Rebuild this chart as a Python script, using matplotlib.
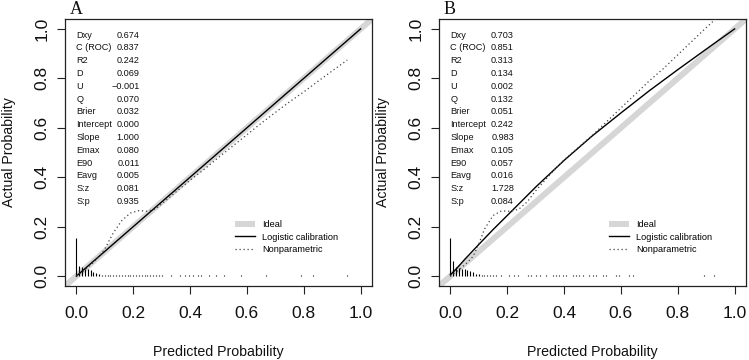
import matplotlib
matplotlib.use("Agg")
import matplotlib.pyplot as plt
from matplotlib.lines import Line2D

plt.rcParams['font.family'] = ['Liberation Sans', 'DejaVu Sans']

# ---------------- data ----------------
panel_labels = ["A", "B"]
stat_names = ["Dxy", "C (ROC)", "R2", "D", "U", "Q", "Brier", "Intercept",
              "Slope", "Emax", "E90", "Eavg", "S:z", "S:p"]
stats_a = ["0.674", "0.837", "0.242", "0.069", "\u22120.001", "0.070", "0.032",
           "0.000", "1.000", "0.080", "0.011", "0.005", "0.081", "0.935"]
stats_b = ["0.703", "0.851", "0.313", "0.134", "0.002", "0.132", "0.051",
           "0.242", "0.983", "0.105", "0.057", "0.016", "1.728", "0.084"]

ideal_x = [0.0, 1.0]
ideal_y = [0.0, 1.0]

logit_x_a = [0.0, 1.0]
logit_y_a = [0.0, 1.0]
logit_x_b = [0.0, 0.02, 0.05, 0.10, 0.15, 0.20, 0.30, 0.40, 0.50, 0.60, 0.70, 0.80, 0.90, 1.0]
logit_y_b = [0.005, 0.028, 0.067, 0.128, 0.188, 0.245, 0.36, 0.468, 0.568, 0.66, 0.75, 0.835, 0.918, 1.0]

np_x_a = [0.0, 0.03, 0.06, 0.08, 0.10, 0.13, 0.16, 0.19, 0.22, 0.25, 0.28, 0.30, 0.35,
          0.40, 0.45, 0.50, 0.55, 0.60, 0.65, 0.70, 0.75, 0.80, 0.85, 0.90, 0.953]
np_y_a = [0.0, 0.025, 0.055, 0.08, 0.11, 0.175, 0.225, 0.255, 0.265, 0.262, 0.272, 0.292, 0.34,
          0.388, 0.432, 0.48, 0.526, 0.572, 0.618, 0.662, 0.705, 0.745, 0.788, 0.83, 0.874]
np_x_b = [0.0, 0.03, 0.06, 0.08, 0.10, 0.12, 0.15, 0.18, 0.21, 0.24, 0.27, 0.30, 0.35,
          0.40, 0.45, 0.50, 0.55, 0.60, 0.65, 0.70, 0.75, 0.80, 0.85, 0.90, 0.933]
np_y_b = [0.0, 0.025, 0.055, 0.08, 0.13, 0.19, 0.245, 0.264, 0.262, 0.27, 0.30, 0.345, 0.41,
          0.47, 0.52, 0.57, 0.625, 0.68, 0.735, 0.79, 0.84, 0.895, 0.95, 1.005, 1.04]

spike_x_a = [0.00, 0.01, 0.02, 0.03, 0.04, 0.05, 0.06, 0.07, 0.08, 0.09, 0.10, 0.11, 0.12,
             0.13, 0.14, 0.15, 0.16, 0.17, 0.18, 0.19, 0.20, 0.21, 0.22, 0.23, 0.24, 0.25,
             0.26, 0.27, 0.28, 0.29, 0.30, 0.332, 0.363, 0.383, 0.396, 0.41, 0.429, 0.438,
             0.465, 0.492, 0.518, 0.58, 0.668, 0.791, 0.832, 0.953]
spike_h_a = [0.153, 0.042, 0.035, 0.030, 0.028, 0.025, 0.018, 0.012, 0.008, 0.006, 0.005, 0.004, 0.004,
             0.004, 0.004, 0.003, 0.003, 0.003, 0.003, 0.003, 0.003, 0.003, 0.003, 0.003, 0.003, 0.003,
             0.003, 0.003, 0.003, 0.003, 0.003, 0.003, 0.003, 0.003, 0.003, 0.003, 0.003, 0.003,
             0.003, 0.003, 0.003, 0.003, 0.003, 0.003, 0.003, 0.003]
spike_x_b = [0.00, 0.01, 0.02, 0.03, 0.04, 0.05, 0.06, 0.07, 0.08, 0.09, 0.10, 0.11, 0.12,
             0.13, 0.14, 0.15, 0.16, 0.178, 0.207, 0.225, 0.239, 0.272, 0.284, 0.301, 0.317,
             0.336, 0.36, 0.372, 0.383, 0.395, 0.407, 0.43, 0.442, 0.454, 0.465, 0.489, 0.5,
             0.512, 0.536, 0.547, 0.583, 0.594, 0.63, 0.641, 0.891, 0.928]
spike_h_b = [0.153, 0.060, 0.035, 0.032, 0.030, 0.028, 0.025, 0.020, 0.015, 0.010, 0.007, 0.006, 0.005,
             0.004, 0.004, 0.004, 0.003, 0.003, 0.003, 0.003, 0.003, 0.003, 0.003, 0.003, 0.003,
             0.003, 0.003, 0.003, 0.003, 0.003, 0.003, 0.003, 0.003, 0.003, 0.003, 0.003, 0.003,
             0.003, 0.003, 0.003, 0.003, 0.003, 0.003, 0.003, 0.003, 0.003]

tick_vals = [0.0, 0.2, 0.4, 0.6, 0.8, 1.0]
tick_labels = ["0.0", "0.2", "0.4", "0.6", "0.8", "1.0"]
legend_labels = ["Ideal", "Logistic calibration", "Nonparametric"]

panels = [
    (stats_a, logit_x_a, logit_y_a, np_x_a, np_y_a, spike_x_a, spike_h_a),
    (stats_b, logit_x_b, logit_y_b, np_x_b, np_y_b, spike_x_b, spike_h_b),
]

# ---------------- figure ----------------
W, H = 749, 360
fig = plt.figure(figsize=(W / 100, H / 100), dpi=100)
ax_lefts = [65, 439]
ax_w, ax_top, ax_bot = 307, 19, 286

ideal_col = "#d6d6d6"
for i, (stats, lx, ly, nx, ny, sx, sh) in enumerate(panels):
    ax = fig.add_axes([ax_lefts[i] / W, 1 - ax_bot / H, ax_w / W, (ax_bot - ax_top) / H])
    ax.set_xlim(-0.04, 1.04)
    ax.set_ylim(-0.04, 1.04)
    ax.axline((ideal_x[0], ideal_y[0]), (ideal_x[1], ideal_y[1]), color=ideal_col,
              lw=4.3, zorder=1, solid_capstyle="butt")
    ax.vlines(sx, 0, sh, colors="black", lw=0.8, zorder=2)
    ax.plot(lx, ly, color="black", lw=1.0, zorder=3)
    ax.plot(nx, ny, color="#444444", lw=0.9, ls=(0, (1, 2.2)), zorder=3, clip_on=True)

    for j, (nm, v) in enumerate(zip(stat_names, stats)):
        yy = 0.975 - j * 0.0518
        ax.text(0.0, yy, nm, fontsize=6.6, ha="left", va="center", color="#111111")
        ax.text(0.223, yy, v, fontsize=6.6, ha="right", va="center", color="#111111")

    handles = [Line2D([], [], color=ideal_col, lw=4.3, solid_capstyle="butt"),
               Line2D([], [], color="black", lw=1.0),
               Line2D([], [], color="#444444", lw=0.9, ls=(0, (1, 2.2)))]
    ax.legend(handles, legend_labels, loc="upper left",
              bbox_to_anchor=((0.558 + 0.04) / 1.08, (0.228 + 0.04) / 1.08),
              frameon=False, fontsize=6.6, handlelength=2.2, handletextpad=0.8,
              labelspacing=0.42, borderpad=0, borderaxespad=0)

    ax.set_xticks(tick_vals)
    ax.set_xticklabels(tick_labels)
    ax.set_yticks(tick_vals)
    ax.set_yticklabels(tick_labels, rotation=90, va="center")
    ax.tick_params(axis="both", labelsize=12.5, length=6, width=0.8, color="#222222",
                   labelcolor="#111111")
    ax.tick_params(axis="x", pad=8.5)
    ax.tick_params(axis="y", pad=5)
    for s in ax.spines.values():
        s.set_linewidth(0.9)
        s.set_color("#222222")

    ax.set_xlabel("Predicted Probability", fontsize=10.2, color="#111111")
    ax.xaxis.set_label_coords(0.5, (ax_bot - 352) / (ax_bot - ax_top))
    ax.xaxis.label.set_va("center")
    ax.set_ylabel("Actual Probability", fontsize=10.2, color="#111111")
    ax.yaxis.set_label_coords((9 + 374 * i - ax_lefts[i]) / ax_w, 0.5)
    ax.yaxis.label.set_va("center")

    fig.text((70 + 374 * i) / W, 1 - 9.5 / H, panel_labels[i], fontsize=13,
             family=["Liberation Serif", "DejaVu Serif"], ha="left", va="center", color="#111111")

fig.savefig("out.png", dpi=100)
